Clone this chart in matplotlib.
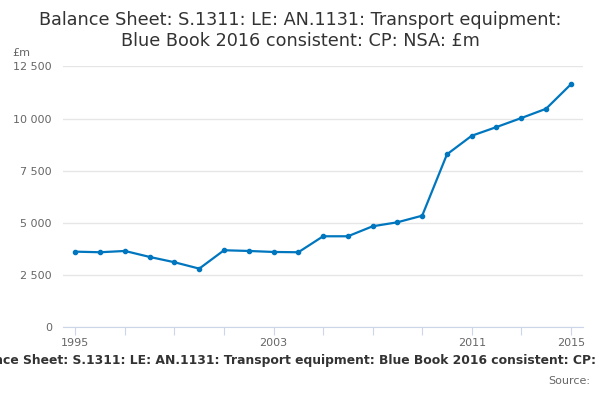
import matplotlib
matplotlib.use("Agg")
import matplotlib.pyplot as plt
from matplotlib.ticker import FuncFormatter, MultipleLocator

years = list(range(1995, 2016))
values = [3621, 3592, 3654, 3367, 3113, 2807, 3688, 3654, 3606, 3592,
          4358, 4358, 4837, 5029, 5345, 8285, 9176, 9593, 10024, 10469, 11638]
tick_years = list(range(1995, 2016, 2))
labelled_years = [1995, 2003, 2011, 2015]
title = "Balance Sheet: S.1311: LE: AN.1131: Transport equipment:\nBlue Book 2016 consistent: CP: NSA: £m"
footer = "Balance Sheet: S.1311: LE: AN.1131: Transport equipment: Blue Book 2016 consistent: CP: NSA: £m"

plt.rcParams['font.family'] = ['DejaVu Sans']
fig = plt.figure(figsize=(6, 4), dpi=100)
ax = fig.add_axes([0.105, 0.182, 0.867, 0.652])

ax.plot(years, values, color='#0076bf', lw=1.6, marker='o', ms=3, zorder=3)

ax.set_xlim(1994.5, 2015.5)
ax.set_ylim(0, 12500)
ax.yaxis.set_major_locator(MultipleLocator(2500))
ax.yaxis.set_major_formatter(FuncFormatter(lambda v, p: f"{int(v):,}".replace(",", " ")))
ax.set_xticks(tick_years)
ax.set_xticklabels([str(y) if y in labelled_years else "" for y in tick_years])
ax.grid(axis='y', color='#e6e6e6', lw=1)
ax.set_axisbelow(True)
for s in ['top', 'right', 'left']:
    ax.spines[s].set_visible(False)
ax.spines['bottom'].set_color('#ccd6eb')
ax.tick_params(axis='y', length=0, labelsize=8, labelcolor='#666666', pad=8)
ax.tick_params(axis='x', length=6, color='#ccd6eb', labelsize=8, labelcolor='#666666', pad=2)

fig.text(0.5, 0.973, title, ha='center', va='top', fontsize=12.7, color='#333333', linespacing=1.2)
fig.text(0.02, 0.868, "£m", fontsize=8, color='#666666', va='center')
fig.text(0.52, 0.098, footer, ha='center', va='center', fontsize=8.9, fontweight='bold', color='#333333')
fig.text(0.983, 0.047, "Source:", ha='right', va='center', fontsize=8, color='#666666')

fig.savefig("out.png", dpi=100)
